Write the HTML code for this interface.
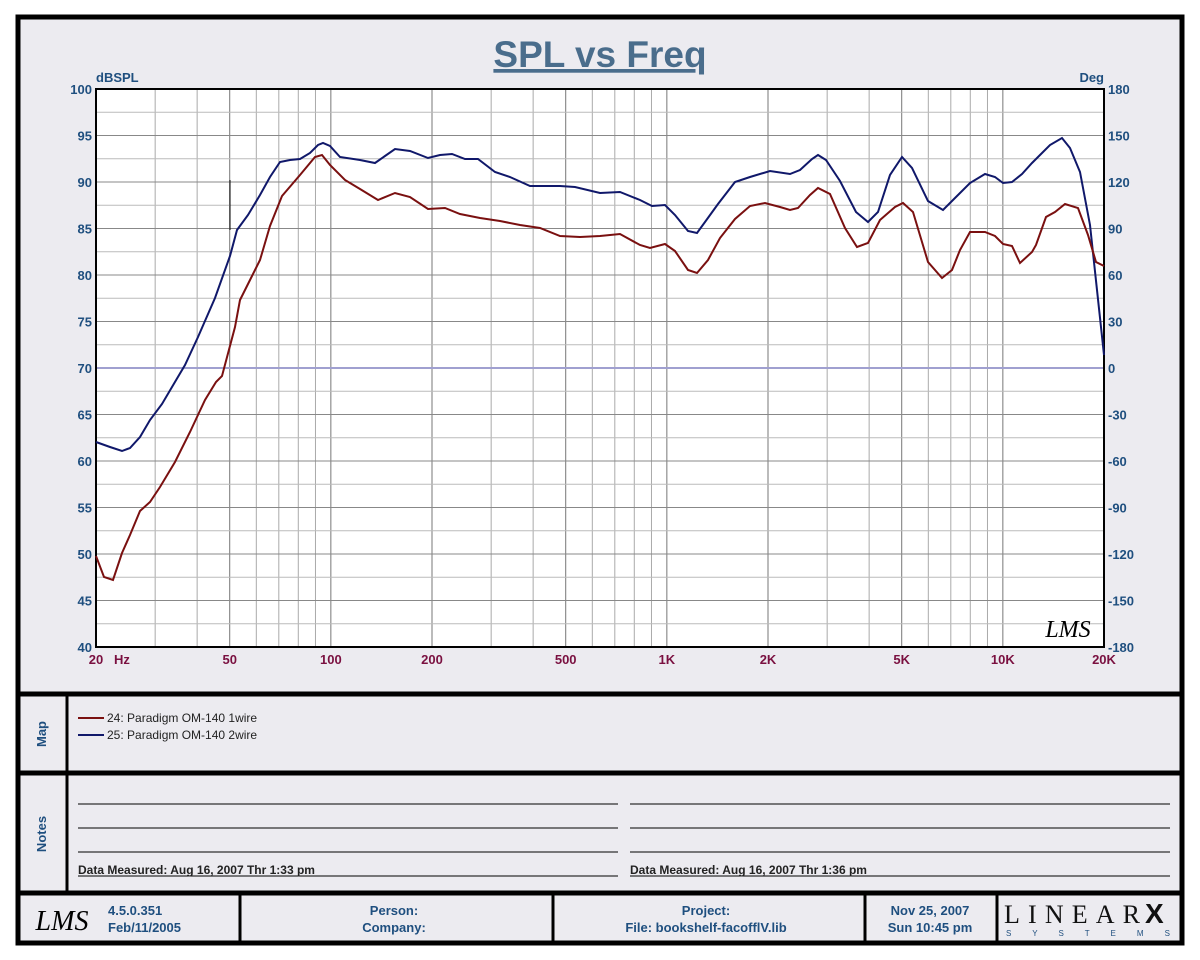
<!DOCTYPE html>
<html><head><meta charset="utf-8"><style>
html,body{margin:0;padding:0;background:#fff;}
svg{display:block;font-family:"Liberation Sans",sans-serif;}
.lt{font-weight:bold;fill:#1f4f7f;font-size:13px;}
.xt{font-weight:bold;fill:#7a1040;font-size:13px;}
.ft{font-weight:bold;fill:#1f4f7f;font-size:13px;font-family:"Liberation Sans Narrow","Liberation Sans",sans-serif;}
</style></head><body>
<svg id="s" width="1200" height="960" xmlns="http://www.w3.org/2000/svg">
<rect x="0" y="0" width="1200" height="960" fill="#fff"/>
<rect x="18" y="17" width="1164" height="926" fill="#ecebf0" stroke="#000" stroke-width="5"/>
<text x="600" y="67" text-anchor="middle" font-size="37" font-weight="bold" fill="#4a6d8c" text-decoration="underline">SPL vs Freq</text>
<rect x="96" y="89" width="1008" height="558" fill="#fff"/>
<g id="grid"></g>
<line x1="96" y1="368" x2="1104" y2="368" stroke="#a0a0d0" stroke-width="2"/>
<rect x="96" y="89" width="1008" height="558" fill="none" stroke="#000" stroke-width="2"/>
<line x1="230" y1="180" x2="230" y2="230" stroke="#000" stroke-width="1"/>
<text x="96" y="82" class="lt" font-size="12">dBSPL</text>
<text x="1104" y="82" class="lt" text-anchor="end" font-size="12">Deg</text>
<g id="lab"></g>
<polyline fill="none" stroke="#10186a" stroke-width="2" points="96,442 110,447 122,451 130,448 140,437 150,420 162,404 172,387 185,365 198,337 215,298 230,256 237,230 248,215 260,195 270,177 280,162 290,160 300,159 310,153 318,145 323,143 330,146 340,157 360,160 375,163 385,156 395,149 410,151 428,158 440,155 452,154 465,159 478,159 495,172 510,177 530,186 560,186 575,187 600,193 620,192 640,200 652,206 665,205 675,215 688,231 697,233 705,222 718,204 735,182 750,177 770,171 790,174 800,170 812,159 818,155 826,160 840,181 856,212 868,222 878,212 890,175 902,157 912,168 928,201 943,210 956,197 970,183 985,174 995,177 1003,183 1012,182 1022,174 1032,163 1040,155 1050,145 1062,138 1070,148 1080,172 1090,225 1097,290 1104,355"/>
<polyline fill="none" stroke="#7a1010" stroke-width="2" points="96,556 104,577 113,580 122,553 130,535 140,511 150,502 160,487 175,462 190,432 205,400 216,382 222,376 235,327 240,300 250,280 260,260 270,226 282,196 300,175 315,157 322,155 330,165 345,180 360,189 378,200 395,193 410,197 428,209 445,208 460,214 480,218 500,221 520,225 540,228 560,236 580,237 600,236 620,234 640,245 650,248 665,244 675,251 688,270 697,273 708,260 720,238 735,219 750,206 765,203 780,207 790,210 798,208 810,195 818,188 830,194 845,228 857,247 868,243 880,220 895,207 903,203 913,212 928,262 942,278 952,270 960,250 970,232 985,232 995,236 1003,244 1012,246 1020,263 1032,252 1036,245 1046,217 1055,212 1065,204 1078,208 1088,235 1096,262 1104,266"/>
<text x="1068" y="637" text-anchor="middle" font-size="24" font-style="italic" font-family="Liberation Serif,serif" fill="#000">LMS</text>
<!-- panels -->
<line x1="18" y1="694" x2="1182" y2="694" stroke="#000" stroke-width="5"/>
<line x1="18" y1="773" x2="1182" y2="773" stroke="#000" stroke-width="5"/>
<line x1="18" y1="893" x2="1182" y2="893" stroke="#000" stroke-width="5"/>
<line x1="67" y1="694" x2="67" y2="893" stroke="#000" stroke-width="3"/>
<text transform="translate(46,734) rotate(-90)" text-anchor="middle" class="lt" font-size="12">Map</text>
<text transform="translate(46,834) rotate(-90)" text-anchor="middle" class="lt" font-size="12">Notes</text>
<line x1="78" y1="718" x2="104" y2="718" stroke="#7a1010" stroke-width="2"/>
<line x1="78" y1="735" x2="104" y2="735" stroke="#10186a" stroke-width="2"/>
<text x="107" y="722" font-size="12" fill="#222">24: Paradigm OM-140 1wire</text>
<text x="107" y="739" font-size="12" fill="#222">25: Paradigm OM-140 2wire</text>
<g stroke="#000" stroke-width="1">
<line x1="78" y1="804" x2="618" y2="804"/><line x1="78" y1="828" x2="618" y2="828"/><line x1="78" y1="852" x2="618" y2="852"/><line x1="78" y1="876" x2="618" y2="876"/>
<line x1="630" y1="804" x2="1170" y2="804"/><line x1="630" y1="828" x2="1170" y2="828"/><line x1="630" y1="852" x2="1170" y2="852"/><line x1="630" y1="876" x2="1170" y2="876"/>
</g>
<text x="78" y="874" font-size="12" font-weight="bold" fill="#222">Data Measured: Aug 16, 2007  Thr  1:33 pm</text>
<text x="630" y="874" font-size="12" font-weight="bold" fill="#222">Data Measured: Aug 16, 2007  Thr  1:36 pm</text>
<g stroke="#000" stroke-width="3">
<line x1="240" y1="893" x2="240" y2="943"/><line x1="553" y1="893" x2="553" y2="943"/><line x1="865" y1="893" x2="865" y2="943"/><line x1="997" y1="893" x2="997" y2="943"/>
</g>
<text x="62" y="930" text-anchor="middle" font-size="28" font-style="italic" font-family="Liberation Serif,serif" fill="#000">LMS</text>
<text x="108" y="915" class="ft">4.5.0.351</text>
<text x="108" y="932" class="ft">Feb/11/2005</text>
<text x="394" y="915" class="ft" text-anchor="middle">Person:</text>
<text x="394" y="932" class="ft" text-anchor="middle">Company:</text>
<text x="706" y="915" class="ft" text-anchor="middle">Project:</text>
<text x="706" y="932" class="ft" text-anchor="middle">File: bookshelf-facofflV.lib</text>
<text x="930" y="915" class="ft" text-anchor="middle">Nov 25, 2007</text>
<text x="930" y="932" class="ft" text-anchor="middle">Sun 10:45 pm</text>
<text x="1004" y="923" font-size="26" font-family="Liberation Serif,serif" fill="#111" textLength="136" lengthAdjust="spacing">LINEAR</text>
<text x="1145" y="923" font-size="28" font-weight="bold" fill="#111">X</text>
<text x="1006" y="936" font-size="8" fill="#1f4f7f" textLength="164" lengthAdjust="spacing">S Y S T E M S</text>
</svg>
<script>
var g=document.getElementById('grid'),lb=document.getElementById('lab'),ns='http://www.w3.org/2000/svg';
function X(f){return 96+336*Math.log10(f/20);}
function ln(x1,y1,x2,y2,c,w){var l=document.createElementNS(ns,'line');l.setAttribute('x1',x1);l.setAttribute('y1',y1);l.setAttribute('x2',x2);l.setAttribute('y2',y2);l.setAttribute('stroke',c);l.setAttribute('stroke-width',w);g.appendChild(l);}
function tx(x,y,t,c,a){var e=document.createElementNS(ns,'text');e.setAttribute('x',x);e.setAttribute('y',y);e.setAttribute('class',c);e.setAttribute('text-anchor',a);e.textContent=t;lb.appendChild(e);}
[10,100,1000,10000].forEach(function(d){for(var m=1;m<10;m++){var f=d*m;if(f<=20||f>=20000)continue;var x=X(f);var maj=(m==1||m==2||m==5);ln(x,89,x,647,maj?'#777':'#aaa',1);}});
for(var i=1;i<24;i++){var y=89+i*558/24;ln(96,y,1104,y,i%2?'#bbb':'#888',1);}
for(var i=0;i<=12;i++){var y=89+i*46.5;tx(92,y+5,String(100-5*i),'lt','end');tx(1108,y+5,String(180-30*i),'lt','start');}
[[20,'20'],[50,'50'],[100,'100'],[200,'200'],[500,'500'],[1000,'1K'],[2000,'2K'],[5000,'5K'],[10000,'10K'],[20000,'20K']].forEach(function(p){tx(X(p[0]),664,p[1],'xt','middle');});
tx(122,664,'Hz','xt','middle');
</script>
</body></html>
